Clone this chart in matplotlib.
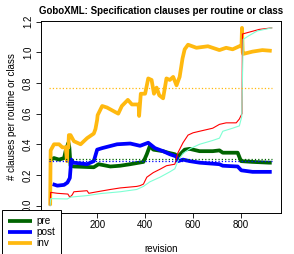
"""
GoboXML specification clauses per routine or class, by revision.
"""

import matplotlib
import matplotlib.pyplot as plt

matplotlib.use('Agg')

plt.rcParams['font.family'] = ['Liberation Sans', 'DejaVu Sans']

# series
pre_rev = [7, 20, 41, 62, 69, 80, 84, 89, 103, 186, 206, 255, 296, 338, 393, 407,
           420, 434, 475, 496, 524, 537, 565, 586, 627, 682, 710, 724, 786, 800,
           848, 917, 928]
pre_val = [0.30, 0.31, 0.30, 0.31, 0.36, 0.41, 0.38, 0.26, 0.255, 0.25, 0.27, 0.255,
           0.26, 0.27, 0.285, 0.335, 0.39, 0.365, 0.355, 0.345, 0.335, 0.32, 0.365,
           0.37, 0.355, 0.355, 0.36, 0.345, 0.345, 0.29, 0.285, 0.28, 0.28]

post_rev = [14, 34, 62, 76, 86, 92, 101, 158, 186, 200, 221, 283, 338, 379, 413,
            441, 475, 503, 531, 537, 558, 586, 627, 710, 724, 786, 801, 848, 928]
post_val = [0.14, 0.13, 0.135, 0.15, 0.18, 0.30, 0.28, 0.27, 0.29, 0.365, 0.375,
            0.40, 0.405, 0.39, 0.41, 0.375, 0.355, 0.335, 0.32, 0.29, 0.30, 0.29,
            0.28, 0.27, 0.26, 0.255, 0.23, 0.22, 0.22]

inv_rev = [4, 6, 20, 41, 55, 69, 74, 76, 80, 82, 89, 103, 131, 158, 186, 193, 200,
           202, 221, 241, 276, 288, 303, 328, 345, 365, 373, 375, 382, 400, 413,
           427, 437, 448, 459, 475, 489, 503, 517, 531, 544, 556, 565, 579, 614,
           662, 710, 738, 765, 793, 802, 804, 807, 809, 848, 889, 928]
inv_val = [0.0, 0.36, 0.40, 0.40, 0.38, 0.38, 0.29, 0.38, 0.38, 0.46, 0.46, 0.42,
           0.40, 0.44, 0.47, 0.50, 0.56, 0.59, 0.65, 0.64, 0.61, 0.60, 0.65, 0.69,
           0.66, 0.66, 0.66, 0.585, 0.73, 0.73, 0.83, 0.82, 0.73, 0.77, 0.72, 0.70,
           0.83, 0.82, 0.84, 0.785, 0.84, 0.96, 1.02, 1.05, 1.03, 1.04, 1.015,
           1.03, 1.02, 1.04, 1.04, 1.16, 1.0, 0.99, 1.005, 1.015, 1.01]

red_rev = [4, 6, 34, 78, 86, 96, 103, 158, 165, 200, 255, 296, 365, 379, 393, 407,
           434, 462, 489, 524, 531, 537, 558, 579, 600, 627, 682, 710, 738, 780,
           793, 804, 806, 841, 876, 928]
red_val = [0.0, 0.086, 0.08, 0.075, 0.054, 0.07, 0.09, 0.097, 0.08, 0.09, 0.105,
           0.115, 0.125, 0.13, 0.14, 0.185, 0.215, 0.237, 0.26, 0.27, 0.31, 0.345,
           0.41, 0.46, 0.475, 0.485, 0.505, 0.53, 0.54, 0.54, 0.565, 0.60, 1.12,
           1.135, 1.15, 1.16]

aqua_rev = [4, 6, 76, 89, 158, 213, 296, 365, 393, 420, 462, 503, 524, 537, 558,
            586, 627, 682, 710, 724, 765, 793, 803, 809, 834, 868, 928]
aqua_val = [0.0, 0.045, 0.043, 0.055, 0.065, 0.078, 0.09, 0.105, 0.125, 0.155,
            0.185, 0.22, 0.24, 0.29, 0.34, 0.37, 0.40, 0.425, 0.44, 0.485, 0.505,
            0.52, 0.58, 1.085, 1.11, 1.14, 1.16]

# averages shown as dotted lines
inv_mean = 0.765
pre_mean = 0.305
post_mean = 0.29
rev_span = [1, 928]

x_ticks = [0, 200, 400, 600, 800]
x_labels = ['', '200', '400', '600', '800']   # the "0" sits under the legend
y_ticks = [0.0, 0.2, 0.4, 0.6, 0.8, 1.0, 1.2]

GREEN = '#006400'
BLUE = '#0000FF'
ORANGE = '#FFB90F'
RED = '#FF0000'
AQUA = '#7FFFD4'

fig = plt.figure(figsize=(2.94, 2.54), dpi=100)
ax = fig.add_axes([0.138, 0.163, 0.818, 0.755])

thick = dict(linewidth=2.7, solid_joinstyle='round', solid_capstyle='butt')
ax.plot(pre_rev, pre_val, color=GREEN, label='pre', **thick)
ax.plot(post_rev, post_val, color=BLUE, label='post', **thick)
ax.plot(inv_rev, inv_val, color=ORANGE, label='inv', **thick)
ax.plot(red_rev, red_val, color=RED, linewidth=0.8)
ax.plot(aqua_rev, aqua_val, color=AQUA, linewidth=0.8)

for level, col in [(inv_mean, ORANGE), (pre_mean, GREEN), (post_mean, BLUE)]:
    ax.plot(rev_span, [level, level], color=col, linestyle=':', linewidth=0.9)

ax.set_xlim(-36, 967)
ax.set_ylim(-0.046, 1.206)
ax.set_xticks(x_ticks)
ax.set_xticklabels(x_labels)
ax.set_yticks(y_ticks)
ax.set_yticklabels([f'{v:.1f}' for v in y_ticks], rotation=90, va='center')
ax.tick_params(labelsize=7, length=3.5, width=0.6, pad=2)
for sp in ax.spines.values():
    sp.set_linewidth(0.7)

ax.set_title('GoboXML: Specification clauses per routine or class',
             fontsize=7.0, fontweight='bold', pad=5)
ax.set_xlabel('revision', fontsize=7, labelpad=10)
ax.set_ylabel('# clauses per routine or class', fontsize=7, labelpad=4)

leg = ax.legend(loc='upper left', bbox_to_anchor=(0.007, 0.173),
                bbox_transform=fig.transFigure, fontsize=7.2, frameon=True,
                fancybox=False, edgecolor='black', framealpha=1,
                handlelength=2.4, handletextpad=0.45, borderpad=0.6,
                labelspacing=0.12, borderaxespad=0)
leg.get_frame().set_linewidth(0.7)
leg.set_zorder(10)

plt.savefig('out.png', dpi=100)
plt.close()
